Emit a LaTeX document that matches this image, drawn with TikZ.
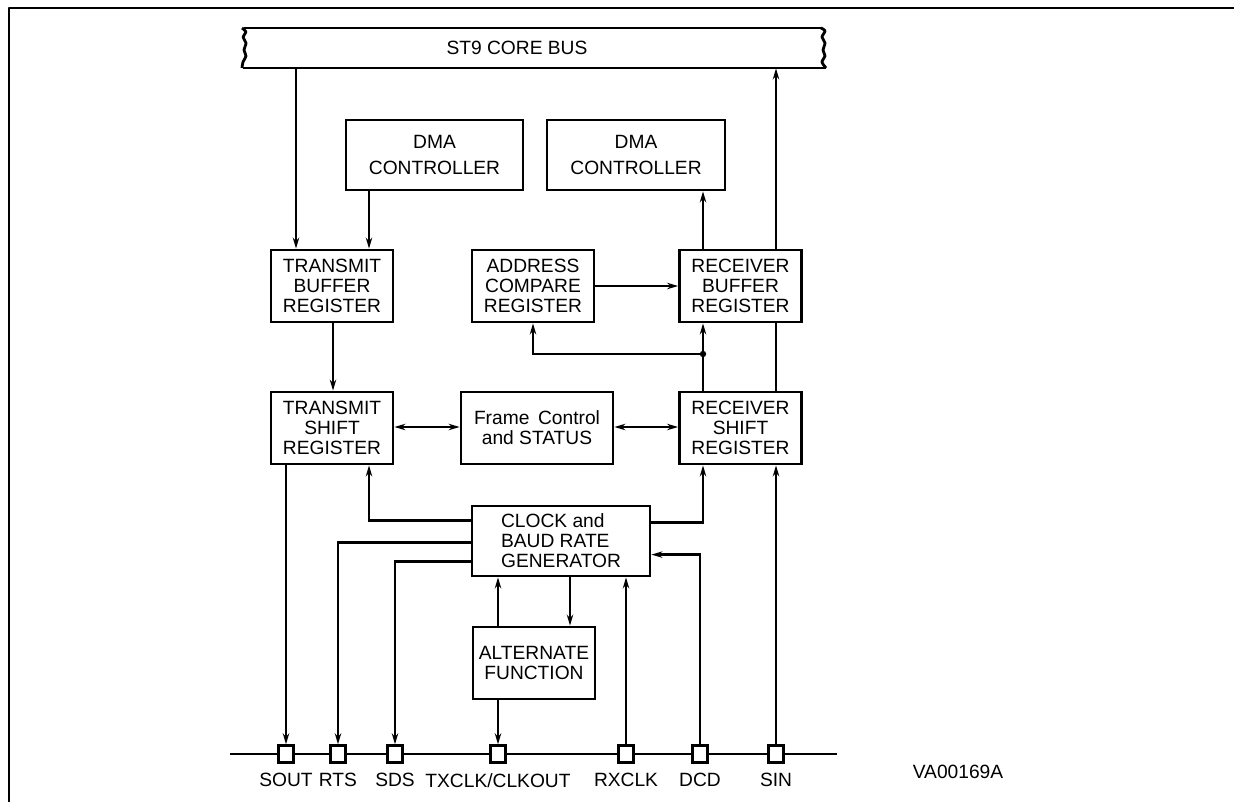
\documentclass[tikz,border=0pt]{standalone}
\usepackage{fontspec}
\setmainfont{Liberation Sans}
\usetikzlibrary{arrows.meta,positioning,calc}
\tikzset{
  block/.style={draw=black, line width=1.4pt, minimum width=61pt, minimum height=36pt,
                inner sep=0pt, align=center, font=\fontsize{9.6}{10}\selectfont},
  wire/.style={line width=1.2pt, draw=black},
  arrow/.style={wire, -{Stealth[length=5.5pt,width=3.2pt,inset=1.8pt]}},
  twoway/.style={wire, {Stealth[length=5.5pt,width=3.2pt,inset=1.8pt]}-{Stealth[length=5.5pt,width=3.2pt,inset=1.8pt]}},
  rail/.style={line width=1.4pt, draw=black, line join=round},
  pinbox/.style={draw=black, line width=1.2pt, fill=white, minimum width=7.5pt,
                 minimum height=8.5pt, inner sep=0pt},
  pinlabel/.style={font=\fontsize{9.6}{10}\selectfont, inner sep=0pt}
}

\begin{document}
\begin{tikzpicture}[x=0.5pt,y=-0.5pt]
  \useasboundingbox (0,0) rectangle (1234,802);
  % outer frame
  \draw[rail] (1234,8) -- (9,8) -- (9,802);

  % core bus
  \node[minimum width=292pt, minimum height=20pt, inner sep=0pt] (bus) at (534,48) {};
  \node[pinlabel] (bustxt) at (517,48) {ST9 CORE BUS};
  \draw[rail] (244,28) -- (822,28);
  \draw[rail] (243,68) -- (826,68);
  \draw[rail] plot[smooth] coordinates {(242,28) (246,32) (243,37) (246,43) (244,50) (246,56) (243,62) (242,68)};
  \draw[rail] plot[smooth] coordinates {(821,28) (825,31) (822,37) (825,43) (823,50) (825,56) (822,62) (826,68)};

  % blocks
  \node[block, minimum width=88.5pt, minimum height=35pt] (dmaT) at (434.5,155) {DMA\\[3pt]CONTROLLER};
  \node[block, minimum width=89pt, minimum height=35pt] (dmaR) at (636,155) {DMA\\[3pt]CONTROLLER};
  \node[block] (tbr) at (332,286) {TRANSMIT\\BUFFER\\REGISTER};
  \node[block] (acr) at (533,286) {ADDRESS\\COMPARE\\REGISTER};
  \node[block] (rbr) at (740.5,286) {RECEIVER\\BUFFER\\REGISTER};
  \node[block] (tsr) at (332,428) {TRANSMIT\\SHIFT\\REGISTER};
  \node[block, minimum width=76pt] (fcs) at (537,428) {Frame\hspace{0.45em}Control\\and STATUS};
  \node[block] (rsr) at (740.5,428) {RECEIVER\\SHIFT\\REGISTER};
  \node[block, minimum width=89pt, minimum height=35pt, align=left] (clk) at (561,541) {CLOCK and\\BAUD RATE\\GENERATOR};
  \node[block] (alt) at (534,663) {ALTERNATE\\FUNCTION};

  % pins on the baseline
  \draw[wire] (230,754) -- (837,754);
  \foreach \pname/\px/\ptext in {sout/286/SOUT, rts/338/RTS, sds/395/SDS, txclk/498/{TXCLK/CLKOUT},
                                  rxclk/626/RXCLK, dcd/700/DCD, sin/776/SIN} {
    \node[pinbox] (\pname) at (\px,754) {};
    \node[pinlabel, below=4.5pt of \pname] (\pname-l) {\ptext};
  }
  \node[pinlabel] (ref) at (958,772) {VA00169A};

  % columns
  \coordinate (txbus) at (296,0);
  \coordinate (txdma) at (369,0);
  \coordinate (txdown) at (333,0);
  \coordinate (rxup) at (703,0);
  \coordinate (rxbus) at (776,0);
  \coordinate (altin) at (570,0);
  \coordinate (jn) at (703,354);

  % transmit side
  \draw[arrow] (bus.south -| txbus) -- (tbr.north -| txbus);
  \draw[arrow] (dmaT.south -| txdma) -- (tbr.north -| txdma);
  \draw[arrow] (tbr.south -| txdown) -- (tsr.north -| txdown);
  \draw[arrow] (tsr.south -| sout) -- (sout.north);

  % receive side
  \draw[arrow] (rbr.north -| rxup) -- (dmaR.south -| rxup);
  \draw[arrow] (rbr.north -| rxbus) -- (bus.south -| rxbus);
  \draw[arrow] (acr.east) -- (rbr.west |- acr.east);
  \draw[arrow] (rsr.north -| rxup) -- (rbr.south -| rxup);
  \draw[arrow] (jn) -| (acr.south);
  \fill (jn) circle (1.6pt);
  \draw[wire] (rsr.north -| rxbus) -- (rbr.south -| rxbus);
  \draw[arrow] (sin.north) -- (rsr.south -| sin);

  % frame control
  \draw[twoway] (tsr.east |- 0,427) -- (fcs.west |- 0,427);
  \draw[twoway] (fcs.east |- 0,427) -- (rsr.west |- 0,427);

  % clock and baud rate generator
  \draw[arrow] ($(clk.north west)+(0,16)$) -| (tsr.south -| txdma);
  \draw[arrow] ($(clk.north east)+(0,18)$) -| (rsr.south -| rxup);
  \draw[arrow] ($(clk.north west)+(0,38)$) -| (rts.north);
  \draw[arrow] ($(clk.north west)+(0,57)$) -| (sds.north);
  \draw[arrow] (dcd.north) |- ($(clk.north east)+(0,50)$);
  \draw[arrow] (rxclk.north) -- (clk.south -| rxclk);
  \draw[arrow] (alt.north -| txclk) -- (clk.south -| txclk);
  \draw[arrow] (clk.south -| altin) -- (alt.north -| altin);
  \draw[arrow] (alt.south -| txclk) -- (txclk.north);
\end{tikzpicture}
\end{document}
